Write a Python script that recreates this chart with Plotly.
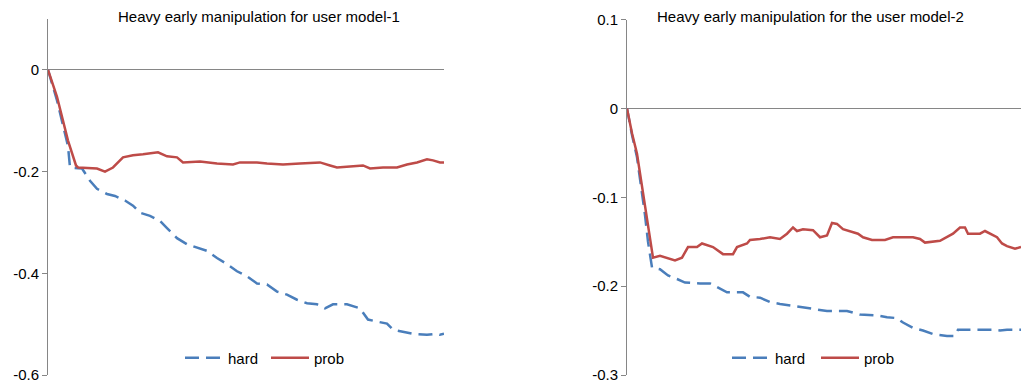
import plotly.graph_objects as go

# ---- Data (x = step index, y = value) ----
left_prob_x = [0, 9, 20, 28, 30, 49, 57, 65, 75, 85, 95, 110, 119, 129, 135, 152, 169, 185, 192, 209, 219, 235, 252, 272, 282, 289, 302, 315, 322, 335, 349, 359, 369, 379, 385, 392, 396]
left_prob_y = [0, -0.053, -0.139, -0.188, -0.192, -0.194, -0.2, -0.192, -0.172, -0.168, -0.166, -0.162, -0.170, -0.172, -0.182, -0.180, -0.184, -0.186, -0.182, -0.182, -0.184, -0.186, -0.184, -0.182, -0.188, -0.192, -0.19, -0.188, -0.194, -0.192, -0.192, -0.186, -0.182, -0.176, -0.178, -0.182, -0.182]

left_hard_x = [0, 9, 20, 22, 34, 42, 49, 59, 67, 77, 85, 92, 102, 112, 119, 129, 139, 149, 159, 169, 179, 189, 199, 209, 219, 229, 239, 249, 259, 269, 277, 285, 299, 312, 320, 329, 339, 345, 355, 365, 379, 389, 392, 396]
left_hard_y = [0, -0.06, -0.15, -0.192, -0.194, -0.218, -0.234, -0.244, -0.248, -0.257, -0.267, -0.281, -0.287, -0.297, -0.311, -0.331, -0.343, -0.350, -0.356, -0.370, -0.382, -0.396, -0.406, -0.420, -0.422, -0.436, -0.442, -0.452, -0.459, -0.461, -0.469, -0.461, -0.461, -0.469, -0.491, -0.495, -0.499, -0.511, -0.515, -0.519, -0.521, -0.519, -0.521, -0.519]

right_prob_x = [0, 5, 10, 15, 18, 21, 26, 33, 40, 48, 55, 61, 70, 75, 86, 96, 106, 110, 120, 123, 133, 143, 153, 160, 166, 170, 176, 186, 193, 200, 205, 210, 216, 223, 231, 236, 245, 258, 266, 276, 286, 293, 298, 313, 320, 326, 333, 338, 341, 353, 358, 363, 370, 375, 380, 388, 394]
right_prob_y = [0, -0.028, -0.051, -0.089, -0.111, -0.134, -0.168, -0.166, -0.168, -0.171, -0.168, -0.156, -0.156, -0.152, -0.156, -0.164, -0.164, -0.156, -0.152, -0.148, -0.147, -0.145, -0.147, -0.141, -0.134, -0.138, -0.136, -0.137, -0.145, -0.143, -0.129, -0.130, -0.136, -0.138, -0.141, -0.145, -0.148, -0.148, -0.145, -0.145, -0.145, -0.147, -0.151, -0.149, -0.145, -0.141, -0.134, -0.134, -0.141, -0.141, -0.138, -0.141, -0.145, -0.152, -0.155, -0.158, -0.156]

right_hard_x = [0, 5, 10, 15, 18, 21, 25, 33, 41, 50, 58, 73, 83, 90, 100, 116, 123, 133, 143, 153, 166, 183, 200, 220, 233, 250, 260, 270, 276, 286, 296, 306, 320, 328, 331, 343, 356, 366, 373, 380, 386, 394]
right_hard_y = [0, -0.03, -0.055, -0.095, -0.12, -0.15, -0.179, -0.181, -0.188, -0.192, -0.196, -0.197, -0.197, -0.201, -0.207, -0.207, -0.212, -0.213, -0.218, -0.220, -0.222, -0.225, -0.228, -0.228, -0.232, -0.233, -0.235, -0.236, -0.241, -0.247, -0.250, -0.254, -0.256, -0.256, -0.249, -0.249, -0.249, -0.249, -0.250, -0.249, -0.249, -0.249]

left_ticks = [0, -0.2, -0.4, -0.6]
left_ticktext = ["0", "-0.2", "-0.4", "-0.6"]
right_ticks = [0.1, 0, -0.1, -0.2, -0.3]
right_ticktext = ["0.1", "0", "-0.1", "-0.2", "-0.3"]

title_left = "Heavy early manipulation for user model-1"
title_right = "Heavy early manipulation for the user model-2"

BLUE = "#4A7EBB"
RED = "#BE4B48"
GRAY = "#868686"
FONT = "Liberation Sans"

W, H = 1021, 390

fig = go.Figure()
fig.add_trace(go.Scatter(x=left_hard_x, y=left_hard_y, mode="lines", name="hard",
                         line=dict(color=BLUE, width=2.5, dash="14px,7px"),
                         xaxis="x", yaxis="y", legend="legend"))
fig.add_trace(go.Scatter(x=left_prob_x, y=left_prob_y, mode="lines", name="prob",
                         line=dict(color=RED, width=2.5),
                         xaxis="x", yaxis="y", legend="legend"))
fig.add_trace(go.Scatter(x=right_hard_x, y=right_hard_y, mode="lines", name="hard",
                         line=dict(color=BLUE, width=2.5, dash="14px,7px"),
                         xaxis="x2", yaxis="y2", legend="legend2"))
fig.add_trace(go.Scatter(x=right_prob_x, y=right_prob_y, mode="lines", name="prob",
                         line=dict(color=RED, width=2.5),
                         xaxis="x2", yaxis="y2", legend="legend2"))

ydom = [1 - 375 / H, 1 - 19 / H]

xcommon = dict(showgrid=False, zeroline=False, showline=False, showticklabels=False, ticks="")
ycommon = dict(showgrid=False, showline=True, linecolor=GRAY, linewidth=1,
               ticks="outside", ticklen=5, tickcolor=GRAY, tickwidth=1,
               zeroline=True, zerolinecolor=GRAY, zerolinewidth=1,
               tickfont=dict(family=FONT, size=15, color="#000000"))

legend_common = dict(orientation="h", yanchor="middle", xanchor="left",
                     font=dict(family=FONT, size=15, color="#000000"),
                     bgcolor="rgba(0,0,0,0)", itemwidth=38, entrywidthmode="pixels")

fig.update_layout(
    width=W, height=H,
    margin=dict(l=0, r=0, t=0, b=0, autoexpand=False),
    paper_bgcolor="white", plot_bgcolor="white",
    xaxis=dict(domain=[48 / W, 444 / W], range=[0, 396], **xcommon),
    yaxis=dict(domain=ydom, range=[-0.6, 0.1], tickvals=left_ticks, ticktext=left_ticktext, **ycommon),
    xaxis2=dict(domain=[627 / W, 1.0], range=[0, 394], anchor="y2", **xcommon),
    yaxis2=dict(domain=[1 - 375 / H, 1 - 19.5 / H], range=[-0.3, 0.1], tickvals=right_ticks,
                ticktext=right_ticktext, anchor="x2", **ycommon),
    legend=dict(x=180 / W, y=1 - 358 / H, entrywidth=33, **legend_common),
    legend2=dict(x=727 / W, y=1 - 358 / H, entrywidth=36, **legend_common),
    showlegend=True,
    annotations=[
        dict(text=title_left, x=259 / W, y=1 - 17 / H, xref="paper", yref="paper",
             xanchor="center", yanchor="middle", showarrow=False,
             font=dict(family=FONT, size=15, color="#000000")),
        dict(text=title_right, x=810 / W, y=1 - 17 / H, xref="paper", yref="paper",
             xanchor="center", yanchor="middle", showarrow=False,
             font=dict(family=FONT, size=15, color="#000000")),
    ],
)

fig.write_html("out.html")
